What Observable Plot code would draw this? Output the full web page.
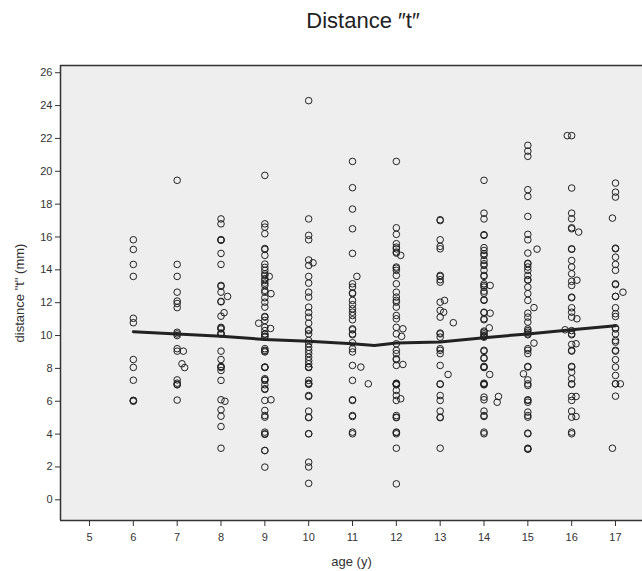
<!DOCTYPE html>
<html>
<head>
<meta charset="utf-8">
<script src="https://cdn.jsdelivr.net/npm/d3@7"></script>
<script src="https://cdn.jsdelivr.net/npm/@observablehq/plot@0.6"></script>
<style>
  body { margin: 0; background: #fff; font-family: Arial, "Liberation Sans", sans-serif; }
  #wrap { width: 642px; position: relative; }
  #title { height: 50px; position: relative; }
  #title span { position: absolute; left: 363px; top: 8px; transform: translateX(-50%); font-size: 22px; color: #222; white-space: nowrap; }
</style>
</head>
<body>
<div id="wrap">
  <div id="title"><span>Distance ″t″</span></div>
  <div id="chart"></div>
</div>
<script>
const title = "Distance ″t″";
const xLabel = "age (y)";
const yLabel = "distance \"t\" (mm)";
const xTicks = [5, 6, 7, 8, 9, 10, 11, 12, 13, 14, 15, 16, 17];
const yTicks = [0, 2, 4, 6, 8, 10, 12, 14, 16, 18, 20, 22, 24, 26];

const age6 = [15.83, 15.24, 14.33, 13.6, 11.05, 10.78, 8.54, 8.06, 7.28, 6.05, 6.05, 6.0];
const age7 = [19.45, 14.33, 13.6, 12.64, 12.1, 11.95, 11.7, 10.2, 10.1, 10.0, 9.2, 9.05, 7.3, 7.1, 7.02, 7.0, 6.07];
const age8 = [17.1, 16.8, 15.83, 15.83, 15.8, 15.0, 14.33, 13.05, 13.0, 12.64, 12.08, 12.05, 11.18, 10.5, 10.45, 10.4, 10.15, 10.1, 10.1, 9.05, 8.54, 8.12, 8.1, 8.05, 7.87, 7.27, 6.09, 5.48, 5.09, 4.46, 3.14];
const age9 = [19.75, 16.8, 16.6, 16.2, 15.3, 15.24, 14.88, 14.35, 14.15, 13.97, 13.76, 13.66, 13.46, 13.35, 13.19, 13.05, 12.75, 12.64, 12.3, 12.03, 11.73, 11.16, 11.12, 10.92, 10.5, 10.3, 10.1, 10.07, 9.96, 9.9, 9.2, 9.1, 9.05, 9.0, 8.08, 8.08, 8.05, 7.37, 7.3, 7.27, 7.0, 6.76, 6.72, 6.05, 5.44, 5.13, 5.03, 4.12, 4.02, 3.98, 3.0, 3.0, 1.99];
const age10 = [24.3, 17.1, 16.1, 15.83, 14.6, 14.27, 13.6, 13.19, 12.64, 12.34, 11.73, 11.4, 11.12, 10.75, 10.35, 10.3, 10.1, 9.7, 9.5, 9.29, 9.1, 8.9, 8.68, 8.48, 8.28, 8.08, 8.08, 8.05, 7.27, 7.1, 7.06, 7.03, 6.35, 6.29, 5.4, 5.03, 5.0, 4.02, 4.02, 2.29, 2.0, 1.0];
const age11 = [20.6, 19.0, 17.7, 16.5, 15.0, 13.15, 12.95, 12.6, 12.55, 12.14, 11.88, 11.63, 11.42, 11.22, 10.96, 10.41, 10.35, 10.1, 10.05, 9.56, 9.2, 9.0, 8.18, 7.27, 6.09, 6.05, 5.13, 5.07, 4.12, 4.02];
const age12 = [20.6, 16.56, 16.16, 15.59, 15.38, 15.28, 15.08, 15.02, 14.17, 14.1, 13.97, 13.66, 13.15, 12.64, 12.34, 12.14, 12.03, 11.73, 11.22, 11.02, 10.5, 10.1, 9.5, 9.1, 8.9, 8.59, 8.53, 8.18, 7.1, 7.06, 7.06, 7.0, 7.03, 6.66, 6.35, 6.05, 5.13, 5.03, 5.0, 4.12, 4.1, 4.02, 3.14, 0.97];
const age13 = [17.05, 17.0, 15.83, 15.43, 15.28, 13.66, 13.6, 13.4, 13.25, 12.03, 11.53, 11.12, 10.15, 10.1, 9.9, 9.2, 9.1, 8.9, 8.18, 7.06, 7.03, 6.35, 6.05, 5.4, 5.03, 5.0, 3.14];
const age14 = [19.45, 17.45, 17.1, 16.14, 16.1, 15.35, 15.18, 14.98, 14.88, 14.57, 14.37, 14.27, 13.97, 13.66, 13.6, 13.15, 13.05, 12.95, 12.7, 12.58, 12.18, 12.14, 11.42, 11.39, 11.02, 10.96, 10.27, 10.2, 10.1, 10.0, 9.95, 9.9, 9.1, 9.05, 8.65, 8.6, 8.12, 8.08, 8.05, 7.1, 7.06, 7.03, 7.0, 6.25, 6.09, 5.4, 5.13, 5.07, 4.12, 4.02];
const age15 = [21.58, 21.23, 20.91, 18.88, 18.47, 17.25, 16.16, 15.83, 15.02, 14.4, 14.37, 14.17, 13.97, 13.66, 13.4, 13.37, 12.95, 12.55, 12.14, 11.36, 11.12, 10.82, 10.4, 10.3, 10.2, 10.1, 10.05, 9.2, 9.1, 8.9, 8.12, 8.08, 7.3, 7.06, 6.96, 6.09, 6.05, 5.94, 5.34, 5.13, 5.03, 4.06, 4.02, 3.14, 3.1, 3.08];
const age16 = [22.17, 18.98, 17.45, 17.11, 16.56, 16.5, 15.28, 15.25, 14.57, 14.17, 13.76, 13.3, 13.05, 12.34, 12.3, 11.69, 11.42, 11.12, 10.3, 10.1, 10.05, 9.46, 9.1, 9.05, 8.12, 8.08, 7.77, 7.37, 7.06, 7.03, 6.29, 6.05, 5.4, 5.03, 4.12, 4.02];
const age17 = [19.28, 18.73, 18.43, 15.32, 15.28, 14.77, 14.33, 13.97, 13.15, 13.1, 12.38, 12.38, 11.69, 11.33, 11.16, 10.47, 10.4, 10.1, 9.7, 9.6, 9.1, 9.05, 8.53, 8.08, 7.57, 7.06, 7.06, 6.31];

// points drawn beside their age column: [age, distance, horizontal shift in years]
const shiftedPoints = [
  [7, 9.05, 0.14], [7, 8.28, 0.11], [7, 8.05, 0.17],
  [8, 12.38, 0.15], [8, 11.39, 0.07], [8, 6.0, 0.09],
  [9, 12.55, 0.14], [9, 13.6, 0.1], [9, 10.43, 0.13], [9, 6.09, 0.14], [9, 10.75, -0.14],
  [10, 14.43, 0.1],
  [11, 13.6, 0.1], [11, 7.06, 0.36], [11, 8.08, 0.19],
  [12, 14.88, 0.1], [12, 10.41, 0.15], [12, 8.24, 0.15], [12, 6.15, 0.1], [12, 9.95, 0.12],
  [13, 12.14, 0.1], [13, 11.42, 0.08], [13, 10.78, 0.3], [13, 7.63, 0.18],
  [14, 13.05, 0.14], [14, 11.36, 0.14], [14, 7.63, 0.13], [14, 6.29, 0.33], [14, 5.94, 0.3], [14, 10.47, 0.12],
  [15, 15.26, 0.21], [15, 11.7, 0.14], [15, 9.54, 0.14], [15, 7.67, -0.1],
  [16, 22.17, -0.1], [16, 16.3, 0.16], [16, 10.35, -0.15], [16, 13.37, 0.12], [16, 11.02, 0.12], [16, 9.5, 0.1], [16, 6.29, 0.1], [16, 5.07, 0.1],
  [17, 17.15, -0.07], [17, 3.14, -0.07], [17, 7.06, 0.11], [17, 12.64, 0.17]
];

// fit line
const fitAge = [6, 7, 8, 9, 10, 11, 11.5, 12, 13, 14, 15, 16, 17];
const fitDist = [10.23, 10.1, 9.96, 9.76, 9.66, 9.5, 9.4, 9.54, 9.6, 9.87, 10.1, 10.35, 10.6];

const columns = [[6, age6], [7, age7], [8, age8], [9, age9], [10, age10], [11, age11], [12, age12], [13, age13], [14, age14], [15, age15], [16, age16], [17, age17]];
const points = [];
for (const [a, ys] of columns) for (const y of ys) points.push({x: a, y});
for (const [a, y, dx] of shiftedPoints) points.push({x: a + dx, y});
const fit = fitAge.map((a, i) => ({x: a, y: fitDist[i]}));

const yMin = -1.26, yMax = 26.44, xMin = 4.338, xMax = 17.616;

const chart = Plot.plot({
  width: 642,
  height: 521,
  marginTop: 15,
  marginBottom: 51,
  marginLeft: 60,
  marginRight: 0,
  style: {fontFamily: "Arial, 'Liberation Sans', sans-serif", fontSize: "11px", color: "#333", background: "transparent"},
  x: {domain: [xMin, xMax]},
  y: {domain: [yMin, yMax]},
  marks: [
    Plot.frame({fill: "#eeeeee", stroke: "none"}),
    Plot.axisX({ticks: xTicks, tickFormat: d => String(d), tickSize: 6, tickPadding: 7, fontSize: 11, label: xLabel, labelAnchor: "center", labelArrow: false, labelOffset: 45}),
    Plot.axisY({ticks: yTicks, tickFormat: d => String(d), tickSize: 5, tickPadding: 3, fontSize: 11, label: yLabel, labelAnchor: "center", labelArrow: false, labelOffset: 46}),
    Plot.dot(points, {x: "x", y: "y", r: 3.3, stroke: "#222", strokeWidth: 1, fill: "none"}),
    Plot.line(fit, {x: "x", y: "y", stroke: "#222", strokeWidth: 3, curve: "linear"}),
    Plot.ruleX([xMin], {stroke: "#333", strokeWidth: 1.5}),
    Plot.ruleY([yMin, yMax], {stroke: "#333", strokeWidth: 1.5})
  ]
});
document.getElementById("chart").appendChild(chart);
chart.querySelectorAll("g[aria-label='x-axis label'] text, g[aria-label='y-axis label'] text").forEach(t => { t.style.fontSize = "13px"; t.style.fill = "#333"; });
</script>
</body>
</html>
